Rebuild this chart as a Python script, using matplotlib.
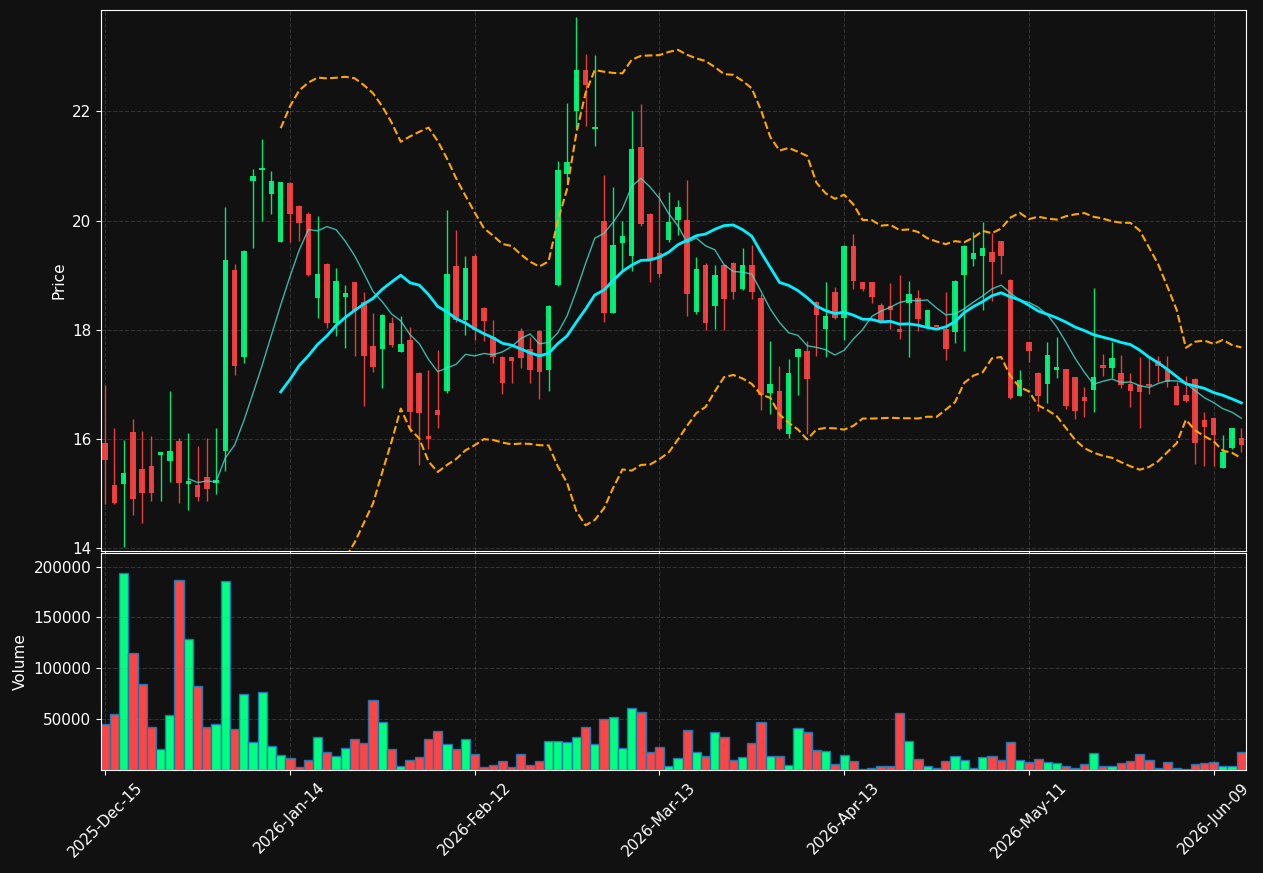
import numpy as np
import pandas as pd
import matplotlib
matplotlib.use('Agg')
import matplotlib.pyplot as plt

# trading days (NYSE holidays removed)
holidays = ['2025-12-25', '2026-01-01', '2026-01-19', '2026-02-16', '2026-04-03', '2026-05-25']
dates = pd.bdate_range('2025-12-15', '2026-06-12', freq='C', holidays=holidays)

open_ = [15.93, 15.16, 15.18, 16.13, 15.45, 15.51, 15.71, 15.60, 15.96, 15.18,
         15.16, 15.31, 15.20, 15.78, 19.10, 17.50, 20.73, 20.93, 20.49, 19.60,
         20.69, 20.26, 20.13, 18.58, 19.21, 18.12, 18.60, 18.87, 18.51, 17.71,
         17.65, 18.12, 17.60, 17.81, 17.21, 16.05, 16.53, 16.88, 19.16, 18.18,
         19.36, 18.40, 17.87, 17.50, 17.50, 17.98, 17.65, 17.98, 17.27, 18.83,
         20.85, 22.00, 22.76, 21.67, 19.99, 18.31, 19.59, 19.36, 21.35, 20.12,
         19.40, 19.65, 20.01, 20.02, 18.33, 19.18, 18.43, 19.18, 19.23, 18.75,
         19.18, 18.58, 16.85, 16.88, 16.09, 17.51, 17.61, 18.51, 18.02, 18.70,
         18.22, 19.54, 18.87, 18.87, 18.45, 18.44, 18.02, 18.49, 18.58, 18.04,
         18.08, 18.01, 17.96, 19.00, 19.29, 19.35, 19.43, 19.62, 18.92, 16.79,
         17.77, 17.21, 17.01, 17.26, 17.28, 17.13, 16.77, 16.90, 17.35, 17.30,
         17.21, 17.00, 16.99, 17.00, 17.42, 17.26, 16.97, 16.80, 17.10, 16.35,
         16.39, 15.47, 15.83, 16.01]
high = [16.99, 16.21, 15.98, 16.36, 16.14, 16.05, 15.77, 16.87, 16.01, 16.11,
        15.87, 16.01, 16.21, 20.25, 19.20, 19.47, 20.94, 21.50, 20.91, 20.71,
        20.71, 20.28, 20.15, 20.09, 19.23, 19.14, 18.83, 18.88, 18.70, 18.30,
        18.29, 18.24, 18.26, 18.06, 17.22, 17.27, 17.63, 20.20, 19.83, 19.36,
        19.38, 18.41, 18.18, 17.52, 17.50, 18.04, 17.87, 18.00, 18.45, 21.10,
        22.16, 23.74, 23.06, 23.03, 20.84, 20.61, 19.99, 22.00, 22.13, 20.14,
        20.53, 20.53, 20.37, 20.75, 19.34, 19.23, 19.18, 19.20, 19.25, 19.50,
        19.56, 18.65, 17.80, 17.33, 17.46, 17.66, 17.80, 18.52, 18.88, 18.79,
        19.56, 19.75, 18.88, 18.88, 18.50, 18.86, 19.01, 18.89, 18.73, 18.37,
        18.09, 18.69, 18.92, 19.56, 19.79, 19.98, 19.78, 19.63, 18.93, 17.27,
        17.78, 17.22, 17.77, 17.86, 17.29, 17.14, 16.96, 18.76, 17.55, 17.78,
        17.53, 17.21, 17.51, 17.50, 17.52, 17.52, 17.05, 17.16, 17.12, 16.50,
        16.40, 16.07, 16.21, 16.21]
low = [14.80, 14.81, 14.02, 14.61, 14.46, 14.86, 14.87, 15.22, 14.82, 14.69,
       14.87, 14.86, 15.00, 15.41, 17.17, 17.39, 19.50, 19.99, 20.13, 19.60,
       19.61, 19.63, 18.99, 18.22, 18.03, 17.89, 17.66, 17.52, 16.61, 17.22,
       16.94, 17.69, 17.60, 16.12, 15.52, 15.82, 16.21, 16.85, 18.15, 17.91,
       17.82, 17.80, 17.39, 16.83, 17.03, 17.30, 17.02, 16.73, 16.87, 18.80,
       20.70, 21.68, 21.74, 21.36, 18.15, 18.30, 19.10, 19.08, 19.90, 18.87,
       18.96, 19.60, 19.74, 18.25, 18.29, 18.00, 18.02, 18.00, 18.57, 18.73,
       18.57, 16.53, 16.45, 16.17, 16.01, 16.80, 16.09, 17.52, 17.51, 18.20,
       17.81, 18.74, 18.72, 18.50, 18.15, 18.02, 17.84, 17.51, 17.97, 18.03,
       18.05, 17.45, 17.75, 17.61, 19.17, 18.37, 18.52, 19.02, 16.73, 16.78,
       17.41, 16.51, 16.65, 17.11, 16.54, 16.36, 16.41, 16.50, 17.15, 17.11,
       16.93, 16.58, 16.21, 16.82, 17.05, 16.96, 16.62, 16.68, 15.54, 15.50,
       15.50, 15.46, 15.82, 15.77]
close = [15.62, 14.83, 15.38, 14.90, 15.01, 15.01, 15.76, 15.78, 15.20, 15.23,
         14.93, 15.09, 15.24, 19.27, 17.34, 19.45, 20.82, 20.96, 20.73, 20.71,
         20.13, 19.95, 19.01, 19.03, 18.12, 18.89, 18.68, 18.34, 17.52, 17.32,
         18.28, 17.72, 17.74, 16.50, 16.48, 16.00, 16.43, 19.03, 18.18, 19.14,
         18.00, 18.17, 17.50, 17.03, 17.43, 17.49, 17.27, 17.22, 18.43, 20.92,
         21.07, 22.76, 22.49, 21.71, 18.31, 19.55, 19.71, 21.31, 19.93, 19.30,
         19.03, 19.97, 20.25, 18.65, 19.11, 18.12, 19.00, 18.56, 18.69, 19.18,
         18.69, 16.81, 17.00, 16.19, 17.21, 17.65, 17.10, 18.27, 18.25, 18.22,
         19.54, 18.89, 18.74, 18.60, 18.17, 18.36, 17.96, 18.66, 18.19, 18.36,
         18.06, 17.65, 18.90, 19.54, 19.40, 19.49, 19.24, 19.35, 16.75, 17.08,
         17.61, 16.78, 17.53, 17.32, 16.61, 16.52, 16.69, 17.13, 17.30, 17.48,
         16.99, 16.88, 16.86, 16.97, 17.34, 17.05, 16.63, 16.70, 15.93, 16.22,
         16.08, 15.77, 16.20, 15.89]
volume = [45030, 54890, 193930, 115050, 84480, 42070, 20380, 53900, 187030, 128850,
          82500, 42070, 45030, 186040, 40100, 74610, 27280, 76590, 23340, 14460,
          11500, 2630, 9530, 32210, 17420, 13480, 21370, 30240, 26300, 68700,
          47000, 20380, 3620, 9530, 12490, 30240, 38130, 25310, 20380, 30240,
          15450, 2630, 5260, 8550, 2630, 15450, 5260, 8550, 28930, 28930,
          27940, 32870, 42730, 25310, 49960, 51930, 22020, 60810, 56870, 17420,
          22350, 4270, 11500, 39120, 17420, 13480, 37140, 32210, 9530, 12490,
          26300, 47000, 13480, 13480, 4600, 41090, 37140, 19390, 18410, 5590,
          14460, 8550, 1000, 1640, 4270, 4270, 55880, 28930, 11180, 4270,
          2300, 8550, 14130, 10190, 2300, 13150, 14130, 10190, 27280, 10190,
          7560, 11180, 7560, 6570, 4270, 2300, 5590, 16430, 4270, 4270,
          6570, 8550, 15450, 10190, 2300, 7560, 2300, 1300, 5590, 6570,
          7560, 4270, 4270, 17420]

UP = '#00ff7f'
DOWN = '#ff4444'
BG = '#111111'


def main():
    df = pd.DataFrame({'Open': open_, 'High': high, 'Low': low,
                       'Close': close, 'Volume': volume}, index=dates)
    n = len(df)
    x = np.arange(n)

    # moving averages and bollinger bands
    ma10 = df['Close'].rolling(10).mean()
    ma20 = df['Close'].rolling(20).mean()
    std20 = df['Close'].rolling(20).std()
    upper = ma20 + 2 * std20
    lower = ma20 - 2 * std20

    up = df['Close'] >= df['Open']
    colors = np.where(up, UP, DOWN)

    fig = plt.figure(figsize=(12.63, 8.73), dpi=100, facecolor=BG)
    ax1 = fig.add_axes([0.080, 0.369, 0.9065, 0.6195], facecolor=BG)
    ax2 = fig.add_axes([0.080, 0.118, 0.9065, 0.2485], facecolor=BG, sharex=ax1)

    # candles
    ax1.vlines(x, df['Low'], df['High'], colors=colors, linewidth=1, alpha=0.9)
    body_lo = np.minimum(df['Open'], df['Close'])
    body_h = np.maximum(np.abs(df['Close'] - df['Open']), 0.03)
    ax1.bar(x, body_h, bottom=body_lo, width=0.6, color=colors, alpha=0.9)

    ax1.plot(x, ma10, color='turquoise', linewidth=1, alpha=0.8)
    ax1.plot(x, ma20, color='#00f0ff', linewidth=2)
    ax1.plot(x, upper, color='orange', linestyle='--', linewidth=1.5)
    ax1.plot(x, lower, color='orange', linestyle='--', linewidth=1.5)

    ax1.set_ylim(df['Low'].min() * 0.995, df['High'].max() * 1.005)
    ax1.set_ylabel('Price', color='white', fontsize=11)

    # volume
    ax2.bar(x, df['Volume'], width=1.0, color=colors, edgecolor='#1f77b4', linewidth=1)
    ax2.set_ylim(0, df['Volume'].max() * 1.1)
    ax2.set_yticks([50000, 100000, 150000, 200000])
    ax2.set_ylabel('Volume', color='white', fontsize=11)

    ax1.set_xlim(-0.45, n - 0.5)
    ticks = list(range(0, n, 20))
    ax2.set_xticks(ticks)
    ax2.set_xticklabels([dates[i].strftime('%Y-%b-%d') for i in ticks],
                        rotation=45, fontsize=11)
    plt.setp(ax1.get_xticklabels(), visible=False)

    for ax in (ax1, ax2):
        ax.grid(True, linestyle='--', color='gray', alpha=0.3)
        ax.tick_params(colors='white', labelsize=11)
        for s in ax.spines.values():
            s.set_color('white')

    fig.savefig('out.png', facecolor=BG)


if __name__ == '__main__':
    main()
